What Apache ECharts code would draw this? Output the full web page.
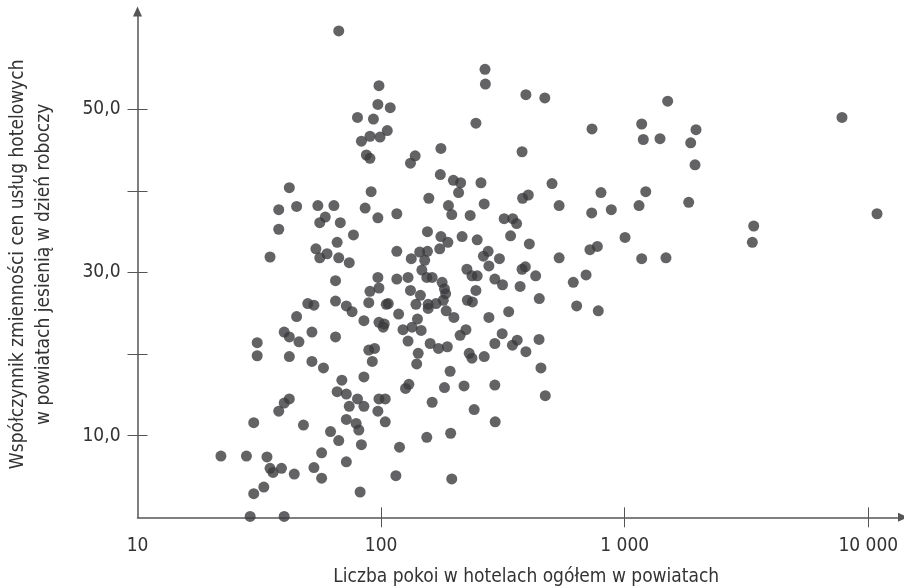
<!DOCTYPE html>
<html>
<head>
<meta charset="utf-8">
<script src="https://cdn.jsdelivr.net/npm/echarts@6/dist/echarts.min.js"></script>
<style>
html, body { margin: 0; padding: 0; background: #fff; }
#chart { width: 904px; height: 586px; }
</style>
</head>
<body>
<div id="chart"></div>
<script>
// liczba pokoi w hotelach (oś X, logarytmiczna)
const rooms = [
  42, 38, 38, 35, 40, 42, 31, 31, 42, 42, 40, 38, 30, 22, 28, 34, 35, 36, 39, 44, 33, 30, 29, 40,
  67, 98, 97, 109, 80, 93, 106, 90, 99, 83, 87, 90, 138, 132, 176, 175, 198, 91,
  157, 45, 55, 64, 86, 189, 195, 59, 56, 68, 97, 116, 77, 155, 176, 188, 66, 54, 60, 56, 67, 74,
  116, 144, 155, 174, 133, 151, 147, 65, 97, 116, 129, 154, 162, 178, 182, 98, 90, 132, 145, 184,
  180, 50, 53, 65, 72, 89, 105, 107, 139, 156, 156, 168, 185, 76, 118, 45, 199, 85, 98, 103,
  102, 141, 134, 123, 146, 52, 65, 46, 129, 159, 172, 187, 89, 94, 142, 52, 92, 140,
  58, 192, 69, 85, 66, 72, 80, 74, 85, 98, 104, 97, 126, 130, 182, 162, 72, 79, 81, 104, 48, 62,
  67, 83, 119, 154, 193, 57, 72, 53, 57, 115, 195, 82,
  267, 268, 393, 470, 245, 734, 379, 212, 257, 503, 208, 799,
  381, 402, 265, 538, 732, 881, 232, 320, 347, 360, 340, 406, 215, 248, 720, 772, 275, 263, 306,
  277, 538, 225, 236, 248, 379, 391, 431, 293, 315, 372, 694, 615, 245, 226, 237, 446, 334, 277,
  635, 779, 223, 211, 314, 293, 346, 362, 445, 393, 230, 236, 265,
  453, 219, 293, 472, 241, 294,
  1501, 1174, 1192, 1396, 1962, 1866, 1944, 7798, 1220, 1145, 1831, 10858, 3385, 3341, 1003, 1174, 1477
]
// współczynnik zmienności cen (oś Y)
const cv = [
  40.4, 37.7, 35.3, 31.9, 22.7, 22.1, 21.4, 19.8, 19.7, 14.5, 14.0, 13.0, 11.6, 7.5, 7.5, 7.4, 6.0, 5.5, 6.0, 5.3, 3.7, 2.9, 0.1, 0.1,
  59.6, 52.9, 50.6, 50.2, 49.0, 48.8, 47.4, 46.7, 46.6, 46.1, 44.4, 44.0, 44.3, 43.4, 45.2, 42.0, 41.3, 39.9,
  39.1, 38.1, 38.2, 38.2, 37.9, 38.2, 37.1, 36.8, 36.1, 36.1, 36.7, 37.2, 34.6, 35.0, 34.4, 33.7, 33.7, 32.9, 32.3, 31.8, 31.8, 31.2,
  32.6, 32.5, 32.6, 32.9, 31.7, 31.5, 30.3, 29.0, 29.4, 29.2, 29.4, 29.4, 29.4, 28.8, 28.0, 28.1, 27.7, 27.8, 27.2, 27.4,
  26.6, 26.2, 26.0, 26.5, 25.9, 26.3, 26.1, 26.2, 26.1, 26.1, 25.6, 26.2, 25.3, 25.2, 24.9, 24.6, 24.5, 24.1, 23.9, 23.7,
  23.3, 24.3, 23.3, 23.0, 22.9, 22.7, 22.1, 21.5, 21.6, 21.3, 20.7, 20.9, 20.5, 20.7, 20.1, 19.1, 19.1, 18.8,
  18.3, 17.9, 16.8, 17.2, 15.4, 15.1, 14.5, 13.6, 13.6, 14.5, 14.5, 13.0, 15.8, 16.3, 15.9, 14.1, 12.0, 11.5, 10.7, 11.7, 11.3, 10.5,
  9.4, 8.9, 8.6, 9.8, 10.3, 7.9, 6.8, 6.1, 4.8, 5.1, 4.7, 3.1,
  54.9, 53.1, 51.8, 51.4, 48.3, 47.6, 44.8, 41.0, 41.0, 40.9, 39.8, 39.8,
  39.1, 39.5, 38.4, 38.2, 37.3, 37.7, 37.0, 36.6, 36.6, 36.0, 34.5, 33.5, 34.4, 34.0, 32.8, 33.2, 32.6, 32.0, 31.7,
  30.8, 31.8, 30.4, 29.6, 29.6, 30.4, 30.7, 29.6, 29.2, 28.5, 28.3, 29.7, 28.8, 27.8, 26.6, 26.4, 26.8, 25.2, 24.5,
  25.9, 25.3, 23.0, 22.3, 22.5, 21.3, 21.1, 21.7, 21.8, 20.3, 20.1, 19.5, 19.7,
  18.3, 16.1, 16.2, 14.9, 13.2, 11.7,
  51.0, 48.2, 46.3, 46.4, 47.5, 45.9, 43.2, 49.0, 39.9, 38.2, 38.6, 37.2, 35.7, 33.7, 34.3, 31.7, 31.8
]
const xTicks = [100, 1000, 10000]
const xLabels = [10, 100, 1000, 10000]
const yTicks = [10, 20, 30, 40, 50]
const yLabels = [10, 30, 50]

const font = "'DejaVu Sans', sans-serif"
const stretch = 'condensed' // goes into the canvas font string
const axisColor = '#555'
const textColor = '#333'

const chart = echarts.init(document.getElementById('chart'))

const xBase = {
  type: 'log',
  logBase: 10,
  min: 10,
  max: 13880,
  position: 'bottom',
  splitLine: { show: false },
  minorTick: { show: false }
}
const yBase = {
  type: 'value',
  min: 0,
  max: 62,
  position: 'left',
  splitLine: { show: false }
}

const option = {
  animation: false,
  grid: { left: 137.5, right: 1, top: 11.4, bottom: 68.7, outerBoundsMode: 'none', containLabel: false },
  xAxis: [
    Object.assign({}, xBase, {
      axisLine: { show: true, lineStyle: { color: axisColor, width: 1.5 }, symbol: ['none', 'triangle'], symbolSize: [9, 10] },
      axisTick: { show: true, inside: false, length: 10, customValues: xTicks, lineStyle: { color: axisColor, width: 1 } },
      axisLabel: {
        customValues: xLabels,
        margin: 19,
        fontSize: 19,
        fontFamily: font,
        fontWeight: stretch,
        color: textColor,
        formatter: v => String(Math.round(v)).replace(/\B(?=(\d{3})+(?!\d))/g, ' ')
      },
      name: 'Liczba pokoi w hotelach ogółem w powiatach',
      nameLocation: 'middle',
      nameGap: 50,
      nameTextStyle: { fontSize: 19, fontFamily: font, fontWeight: stretch, color: textColor, padding: [0, 0, 0, 12] }
    }),
    Object.assign({}, xBase, {
      axisLine: { show: false },
      axisTick: { show: true, inside: true, length: 10, customValues: xTicks, lineStyle: { color: axisColor, width: 1 } },
      axisLabel: { show: false }
    })
  ],
  yAxis: [
    Object.assign({}, yBase, {
      axisLine: { show: true, lineStyle: { color: axisColor, width: 1.5 }, symbol: ['none', 'triangle'], symbolSize: [9, 10] },
      axisTick: { show: true, inside: false, length: 10, customValues: yTicks, lineStyle: { color: axisColor, width: 1 } },
      axisLabel: {
        customValues: yLabels,
        margin: 17,
        fontSize: 19,
        fontFamily: font,
        fontWeight: stretch,
        color: textColor,
        formatter: v => v.toFixed(1).replace('.', ',')
      },
      name: 'Współczynnik zmienności cen usług hotelowych\nw powiatach jesienią w dzień roboczy',
      nameLocation: 'middle',
      nameRotate: 90,
      nameGap: 80,
      nameTextStyle: { fontSize: 19, fontFamily: font, fontWeight: stretch, color: textColor, lineHeight: 26 }
    }),
    Object.assign({}, yBase, {
      axisLine: { show: false },
      axisTick: { show: true, inside: true, length: 10, customValues: yTicks, lineStyle: { color: axisColor, width: 1 } },
      axisLabel: { show: false }
    })
  ],
  series: [{
    type: 'scatter',
    xAxisIndex: 0,
    yAxisIndex: 0,
    symbolSize: 11,
    clip: false,
    itemStyle: { color: '#3c3c3e' },
    data: rooms.map((r, i) => [r, cv[i]])
  }]
}

chart.setOption(option)
</script>
</body>
</html>
